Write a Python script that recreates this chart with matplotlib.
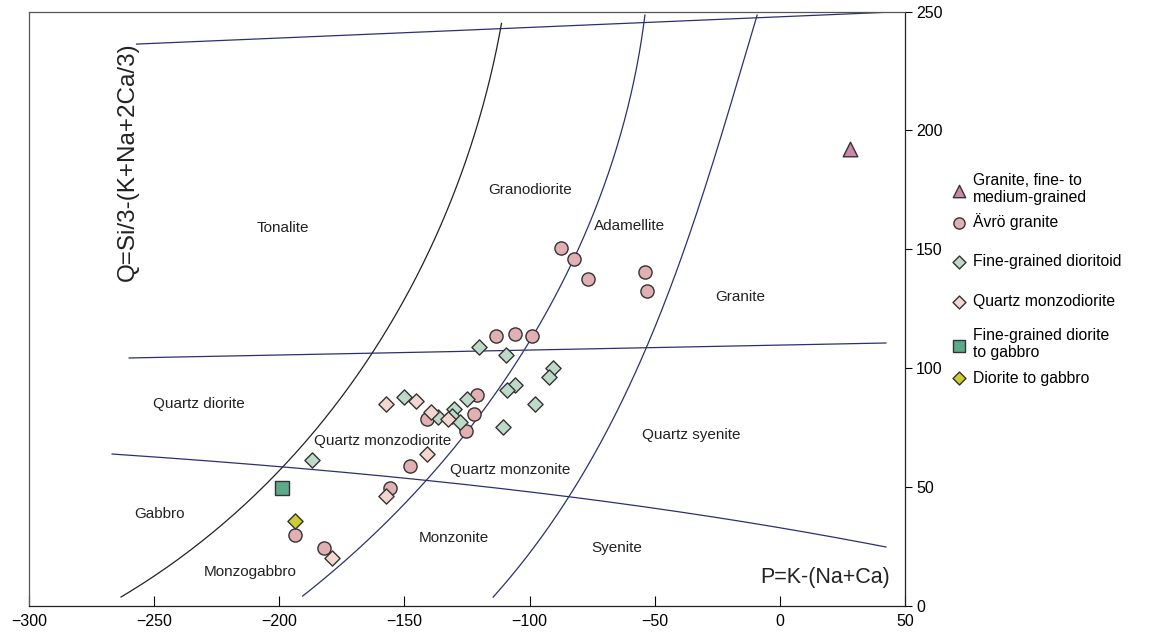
import matplotlib
matplotlib.use("Agg")
import matplotlib.pyplot as plt
import numpy as np

plt.rcParams['font.family'] = ['Liberation Sans', 'DejaVu Sans']

# ---------------- data ----------------
granite_fm_x = [28]
granite_fm_y = [192]

avro_x = [-87.6, -82.3, -76.8, -53.8, -53.2, -113.4, -106.0, -98.9, -121.0, -122.1,
          -140.8, -125.3, -147.7, -155.7, -193.6, -182.1]
avro_y = [150.4, 145.9, 137.6, 140.3, 132.3, 113.5, 114.4, 113.5, 88.9, 80.7,
          78.8, 73.5, 58.9, 49.8, 29.7, 24.5]

dioritoid_x = [-120.3, -109.4, -90.8, -92.2, -105.7, -109.1, -97.8, -110.7, -150.2,
               -124.9, -136.7, -130.3, -131.0, -127.8, -187.0]
dioritoid_y = [108.8, 105.7, 100.1, 96.2, 93.1, 90.8, 85.1, 75.1, 87.7,
               87.2, 79.3, 82.7, 79.9, 77.5, 61.3]

qmd_x = [-157.2, -145.3, -139.3, -132.7, -141.1, -157.5, -179.1]
qmd_y = [85.1, 86.2, 81.7, 78.6, 63.9, 46.1, 20.1]

fg_diorite_x = [-198.9]
fg_diorite_y = [49.5]

diorite_x = [-193.6]
diorite_y = [35.6]

# boundary curves
top_line_x = [-257, 50]
top_line_y = [236.3, 250]
mid_line_x = [-260, 42.4]
mid_line_y = [104.3, 110.6]
low_line_x = [-266.8, -207.7, -127.8, -31.9, 42.4]
low_line_y = [63.9, 59.3, 51.3, 38.3, 24.8]
left_curve_x = [-263.2, -207.7, -188.9, -162.9, -154.6, -129.8, -111.2]
left_curve_y = [3.8, 48.8, 69.8, 106.4, 120.3, 174.9, 245]
midc_x = [-190.7, -147.8, -129.1, -111.8, -94.5, -87.9, -77.2, -53.9]
midc_y = [4.2, 44.6, 69.8, 90.8, 120.3, 135.0, 158.1, 248.5]
right_curve_x = [-114.6, -85.2, -75.9, -71.9, -47.5, -35.2, -9.1]
right_curve_y = [3.8, 44.6, 58.6, 69.8, 124.5, 158.1, 248.5]

field_names = ["Tonalite", "Granodiorite", "Adamellite", "Granite", "Quartz diorite",
               "Quartz monzodiorite", "Quartz monzonite", "Quartz syenite",
               "Gabbro", "Monzogabbro", "Monzonite", "Syenite"]
field_x = [-198.5, -99.8, -60, -16, -232, -158.6, -107.8, -35.5, -247.7, -211.7, -130.2, -65]
field_y = [159, 175, 160, 130, 85, 69.5, 57.2, 71.9, 38.7, 14.3, 28.6, 24.4]

x_ticks = [-300, -250, -200, -150, -100, -50, 0, 50]
y_ticks = [0, 50, 100, 150, 200, 250]

# ---------------- figure ----------------
fig = plt.figure(figsize=(11.52, 6.39), dpi=100)
ax = fig.add_axes([29/1152, 33/639, (905-29)/1152, (606-11.5)/639])
ax.set_xlim(-300, 50)
ax.set_ylim(0, 250)

navy = '#2b3170'
lw = 0.9


def smooth(xs, ys, n=200):
    ys_ = np.array(ys, float)
    xs_ = np.array(xs, float)
    t = np.r_[0, np.cumsum(np.hypot(np.diff(xs_), np.diff(ys_)))]
    tt = np.linspace(0, t[-1], n)
    deg = min(3, len(xs_) - 1)
    px = np.polyfit(t, xs_, deg)
    py = np.polyfit(t, ys_, deg)
    return np.polyval(px, tt), np.polyval(py, tt)


ax.plot(top_line_x, top_line_y, color=navy, lw=lw)
ax.plot(mid_line_x, mid_line_y, color=navy, lw=lw)
sx, sy = smooth(low_line_x, low_line_y)
ax.plot(sx, sy, color=navy, lw=lw)
sx, sy = smooth(left_curve_x, left_curve_y)
ax.plot(sx, sy, color='#222222', lw=lw)
sx, sy = smooth(midc_x, midc_y)
ax.plot(sx, sy, color=navy, lw=lw)
sx, sy = smooth(right_curve_x, right_curve_y)
ax.plot(sx, sy, color=navy, lw=lw)

ec = '#333333'
h1 = ax.scatter(granite_fm_x, granite_fm_y, marker='^', s=110, c='#cc88aa', edgecolors=ec, linewidths=1, zorder=5)
h2 = ax.scatter(avro_x, avro_y, marker='o', s=90, c='#e2b0b2', edgecolors=ec, linewidths=1, zorder=5)
h3 = ax.scatter(dioritoid_x, dioritoid_y, marker='D', s=60, c='#bddac9', edgecolors=ec, linewidths=1, zorder=5)
h4 = ax.scatter(qmd_x, qmd_y, marker='D', s=60, c='#f2d6cf', edgecolors=ec, linewidths=1, zorder=5)
h5 = ax.scatter(fg_diorite_x, fg_diorite_y, marker='s', s=100, c='#5daa88', edgecolors=ec, linewidths=1, zorder=5)
h6 = ax.scatter(diorite_x, diorite_y, marker='D', s=60, c='#cccc33', edgecolors=ec, linewidths=1, zorder=5)

for name, x, y in zip(field_names, field_x, field_y):
    ax.text(x, y, name, fontsize=11, ha='center', va='center', color='#222222')

ax.text(18, 11.8, "P=K-(Na+Ca)", fontsize=15.5, ha='center', va='center', color='#222222')
ax.text(-260.4, 187, "Q=Si/3-(K+Na+2Ca/3)", fontsize=17.5, rotation=90,
        ha='center', va='center', color='#222222')

# axes styling
ax.set_xticks(x_ticks)
ax.set_yticks(y_ticks)
ax.yaxis.tick_right()
ax.tick_params(axis='x', direction='in', length=7, width=0.8, labelsize=11.5, pad=6)
ax.tick_params(axis='y', direction='out', length=5, width=0.8, labelsize=11.5, pad=3)
ax.set_xticklabels([str(t).replace('-', '\u2212') for t in x_ticks],
                   family=['Liberation Sans Narrow', 'Liberation Sans'])
for sp in ax.spines.values():
    sp.set_linewidth(0.9)
    sp.set_color('#222222')
ax.spines['top'].set_color('#555555')
ax.spines['left'].set_color('#555555')

# legend: one small legend per entry, positioned individually
labels = ["Granite, fine- to\nmedium-grained", "Ävrö granite", "Fine-grained dioritoid",
          "Quartz monzodiorite", "Fine-grained diorite\nto gabbro", "Diorite to gabbro"]
handles = [h1, h2, h3, h4, h5, h6]
entry_y_px = [189, 222, 262, 302, 344, 378]
for h, lab, ypx in zip(handles, labels, entry_y_px):
    fig.legend([h], [lab], loc='center left',
               bbox_to_anchor=(951/1152, 1 - ypx/639), frameon=False, fontsize=11.3,
               handletextpad=0.4, handlelength=1.0, borderaxespad=0, borderpad=0,
               markerscale=0.85)

fig.savefig("out.png", dpi=100)
